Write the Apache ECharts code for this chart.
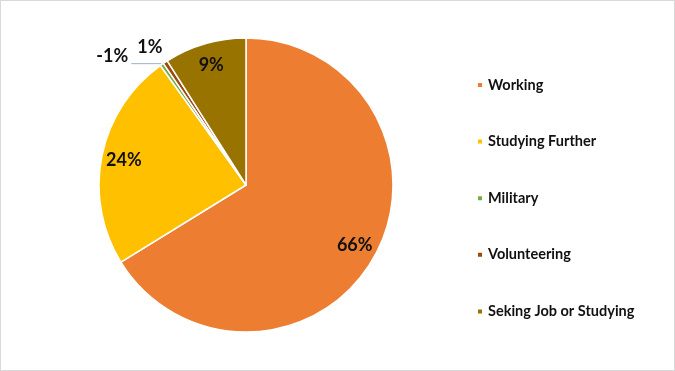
<!DOCTYPE html>
<html>
<head>
<meta charset="utf-8">
<script src="https://cdn.jsdelivr.net/npm/echarts@6/dist/echarts.min.js"></script>
<style>
html,body{margin:0;padding:0;background:#fff;}
#c{width:675px;height:371px;position:absolute;left:0;top:0;}
#frame{position:absolute;left:0;top:0;width:675px;height:371px;box-sizing:border-box;border:1px solid #d9d9d9;pointer-events:none;}
</style>
</head>
<body>
<div id="c"></div>
<div id="frame"></div>
<script>
const categories = ['Working', 'Studying Further', 'Military', 'Volunteering', 'Seking Job or Studying'];
const values = [66.2, 23.9, 0.4, 0.5, 9.0];
const labelTexts = ['66%', '24%', '-1%', '1%', '9%'];
const colors = ['#ED7D31', '#FFC000', '#70AD47', '#9E480E', '#997300'];
const insideIdx = [0, 1, 4];

const FONT = 'Lato, "Open Sans", sans-serif';
const chart = echarts.init(document.getElementById('c'));

const mainData = categories.map((n, i) => {
  const d = { name: n, value: values[i], itemStyle: { color: colors[i] } };
  if (i === 2) {
    d.label = { show: true, position: 'outside', formatter: labelTexts[i] + '\n ', lineHeight: 14, distanceToLabelLine: 3 };
    d.labelLine = { show: true, length: 1, length2: 30, lineStyle: { color: '#9FB2C6', width: 1 } };
  } else if (i === 3) {
    d.label = { show: true, position: 'outside', formatter: labelTexts[i], distanceToLabelLine: -7 };
    d.labelLine = { show: false, length: 18, length2: 0 };
  } else {
    d.label = { show: false };
    d.labelLine = { show: false };
  }
  return d;
});

const ringData = categories.map((n, i) => ({
  name: n,
  value: values[i],
  itemStyle: { color: 'rgba(0,0,0,0)' },
  label: insideIdx.includes(i) ? { show: true, formatter: labelTexts[i] } : { show: false }
}));

chart.setOption({
  animation: false,
  backgroundColor: '#fff',
  legend: {
    orient: 'vertical',
    left: 476,
    top: 77,
    padding: 0,
    icon: 'rect',
    itemWidth: 6,
    itemHeight: 6,
    itemGap: 40.6,
    data: categories.map((n, i) => ({ name: n, itemStyle: { color: colors[i] } })),
    selectedMode: false,
    textStyle: { fontFamily: FONT, fontWeight: 'bold', fontSize: 14.5, color: '#111', lineHeight: 16 }
  },
  series: [
    {
      type: 'pie',
      center: [246, 185],
      radius: [0, 147],
      startAngle: 90,
      clockwise: true,
      avoidLabelOverlap: false,
      silent: true,
      itemStyle: { borderColor: '#fff', borderWidth: 1.5 },
      label: { fontFamily: FONT, fontWeight: 'bold', fontSize: 18, color: '#111' },
      data: mainData
    },
    {
      type: 'pie',
      center: [246, 185],
      radius: [96, 147],
      startAngle: 90,
      clockwise: true,
      silent: true,
      avoidLabelOverlap: false,
      label: { position: 'inside', fontFamily: FONT, fontWeight: 'bold', fontSize: 18, color: '#111' },
      labelLine: { show: false },
      data: ringData
    }
  ]
});
</script>
</body>
</html>
